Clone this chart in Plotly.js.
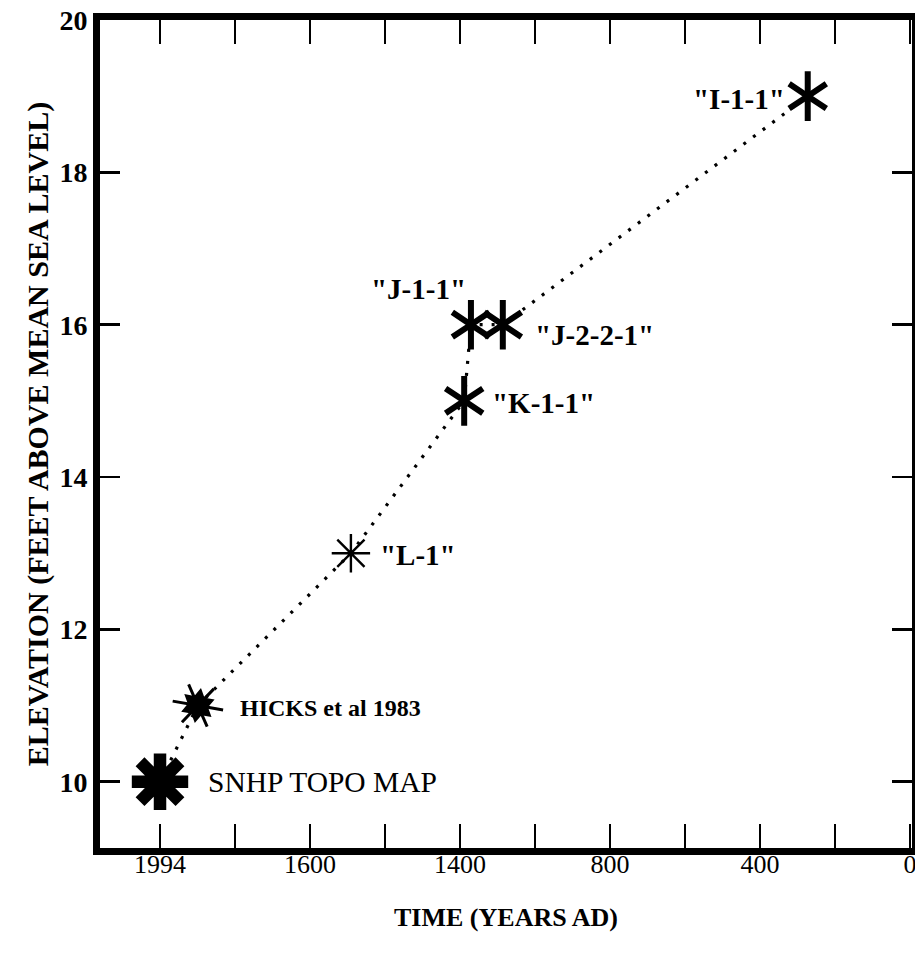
<!DOCTYPE html>
<html>
<head>
<meta charset="utf-8">
<script src="https://cdn.plot.ly/plotly-3.0.1.min.js"></script>
<style>html,body{margin:0;padding:0;background:#fff;}#chart{width:915px;height:963px;}</style>
</head>
<body>
<div id="chart"></div>
<script>
// ---- data ----
const sampleNames = ['SNHP TOPO MAP', 'HICKS et al 1983', '"L-1"', '"K-1-1"', '"J-1-1"', '"J-2-2-1"', '"I-1-1"'];
const yearsAD     = [2000, 1899, 1491, 1189, 1171, 1086, 273];
const elevationFt = [10, 11, 13, 15, 16, 16, 19];

const xTickVals = [2000, 1800, 1600, 1400, 1200, 1000, 800, 600, 400, 200, 0];
const xTickText = ['1994', '', '1600', '', '1400', '', '800', '', '400', '', '0'];
const yTickVals = [10, 12, 14, 16, 18, 20];

// marker groups (indices into the arrays above)
const snhpIdx = [0];
const hicksIdx = [1];
const lIdx = [2];
const starIdx = [3, 4, 5, 6];

const pick = (arr, idx) => idx.map(i => arr[i]);
const SERIF = 'Liberation Serif, Times New Roman, serif';
const K = '#000';

const traces = [
  { // dotted connecting line
    x: yearsAD, y: elevationFt, mode: 'lines', type: 'scatter',
    line: { color: K, width: 3.2, dash: '3px,9px' }, hoverinfo: 'skip'
  },
  { // SNHP big 8-arm asterisk
    x: pick(yearsAD, snhpIdx), y: pick(elevationFt, snhpIdx), mode: 'markers', type: 'scatter',
    marker: { symbol: 'asterisk-open', size: 47, color: K, line: { color: K, width: 12.5 } }
  },
  { // HICKS six pointed star
    x: pick(yearsAD, hicksIdx), y: pick(elevationFt, hicksIdx), mode: 'markers', type: 'scatter',
    marker: { symbol: 'y-up-open', size: 32, angle: 100, color: K, line: { color: K, width: 3 } }
  },
  {
    x: pick(yearsAD, hicksIdx), y: pick(elevationFt, hicksIdx), mode: 'markers', type: 'scatter',
    marker: { symbol: 'y-down-open', size: 32, angle: 100, color: K, line: { color: K, width: 3 } }
  },
  {
    x: pick(yearsAD, hicksIdx), y: pick(elevationFt, hicksIdx), mode: 'markers', type: 'scatter',
    marker: { symbol: 'hexagram', size: 27, angle: 10, color: K, line: { width: 0 } }
  },
  { // L-1 thin asterisk
    x: pick(yearsAD, lIdx), y: pick(elevationFt, lIdx), mode: 'markers', type: 'scatter',
    marker: { symbol: 'asterisk-open', size: 32, color: K, line: { color: K, width: 2.4 } }
  },
  { // six arm asterisks
    x: pick(yearsAD, starIdx), y: pick(elevationFt, starIdx), mode: 'markers', type: 'scatter',
    marker: { symbol: 'y-up-open', size: 31, color: K, line: { color: K, width: 6 } }
  },
  {
    x: pick(yearsAD, starIdx), y: pick(elevationFt, starIdx), mode: 'markers', type: 'scatter',
    marker: { symbol: 'y-down-open', size: 31, color: K, line: { color: K, width: 6 } }
  }
];

// label placement (pixel offsets from each point)
const labelOffsets = [
  { xs: 46, ys: 0, anchor: 'left', bold: false, size: 29.5 },
  { xs: 40, ys: -2, anchor: 'left', bold: true, size: 24 },
  { xs: 27, ys: -2, anchor: 'left', bold: true, size: 29 },
  { xs: 26, ys: -2, anchor: 'left', bold: true, size: 29 },
  { xs: -3, ys: 36, anchor: 'right', bold: true, size: 29 },
  { xs: 30, ys: -10, anchor: 'left', bold: true, size: 29 },
  { xs: -21, ys: -3, anchor: 'right', bold: true, size: 29 }
];

const annotations = sampleNames.map((t, i) => ({
  x: yearsAD[i], y: elevationFt[i], xref: 'x', yref: 'y',
  text: t, showarrow: false,
  xanchor: labelOffsets[i].anchor, yanchor: 'middle',
  xshift: labelOffsets[i].xs, yshift: labelOffsets[i].ys,
  font: { family: SERIF, size: labelOffsets[i].size, color: K, weight: labelOffsets[i].bold ? 700 : 400 }
}));

const layout = {
  width: 915, height: 963,
  margin: { l: 100, r: 3, t: 20, b: 115 },
  paper_bgcolor: '#fff', plot_bgcolor: '#fff',
  showlegend: false,
  font: { family: SERIF, color: K },
  xaxis: {
    range: [2160, -5],
    tickmode: 'array', tickvals: xTickVals, ticktext: xTickText,
    ticks: 'inside', ticklen: 24, tickwidth: 2.5, tickcolor: K,
    showline: true, linewidth: 7, linecolor: K, mirror: 'ticks',
    showgrid: false, zeroline: false, ticklabeloverflow: 'allow',
    ticklabelstandoff: -13,
    tickfont: { family: SERIF, size: 26, color: K },
    title: { text: 'TIME (YEARS AD)', font: { family: SERIF, size: 26, color: K, weight: 700 }, standoff: 32 }
  },
  yaxis: {
    range: [9.13, 20.0],
    tickmode: 'array', tickvals: yTickVals,
    ticks: 'inside', ticklen: 20, tickwidth: 2.5, tickcolor: K,
    showline: true, linewidth: 7, linecolor: K, mirror: 'ticks',
    showgrid: false, zeroline: false,
    tickfont: { family: SERIF, size: 28, color: K, weight: 700 },
    title: { text: 'ELEVATION (FEET ABOVE MEAN SEA LEVEL)', font: { family: SERIF, size: 30, color: K, weight: 700 }, standoff: 4 }
  },
  annotations: annotations
};

Plotly.newPlot('chart', traces, layout, { displayModeBar: false, staticPlot: true });
</script>
</body>
</html>
